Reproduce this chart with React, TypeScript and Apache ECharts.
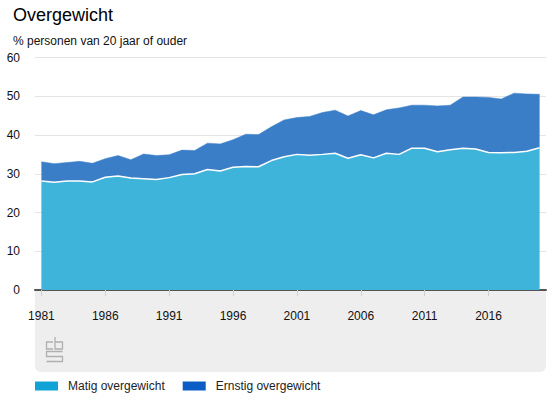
import React, { useEffect, useRef } from "react";
import * as echarts from "echarts";

const years = [
  "1981", "1982", "1983", "1984", "1985", "1986", "1987", "1988", "1989", "1990",
  "1991", "1992", "1993", "1994", "1995", "1996", "1997", "1998", "1999", "2000",
  "2001", "2002", "2003", "2004", "2005", "2006", "2007", "2008", "2009", "2010",
  "2011", "2012", "2013", "2014", "2015", "2016", "2017", "2018", "2019", "2020",
];

const matig = [
  28.1, 27.8, 28.1, 28.1, 27.9, 29.1, 29.4, 28.9, 28.7, 28.5,
  29.0, 29.8, 30.0, 31.1, 30.7, 31.7, 31.9, 31.8, 33.4, 34.4,
  35.0, 34.8, 35.0, 35.3, 34.0, 34.9, 34.1, 35.3, 35.0, 36.6,
  36.6, 35.7, 36.2, 36.6, 36.4, 35.5, 35.4, 35.5, 35.8, 36.7,
];

const ernstig = [
  5.0, 4.8, 4.8, 5.1, 4.8, 4.8, 5.3, 4.7, 6.4, 6.2,
  5.9, 6.3, 6.0, 6.8, 7.0, 7.1, 8.3, 8.3, 8.7, 9.5,
  9.5, 10.0, 10.8, 11.1, 10.9, 11.4, 11.1, 11.2, 12.0, 11.1,
  11.1, 11.8, 11.5, 13.2, 13.4, 14.2, 13.9, 15.3, 14.8, 13.8,
];

const seriesNames = ["Matig overgewicht", "Ernstig overgewicht"];
const titleText = "Overgewicht";
const subtitleText = "% personen van 20 jaar of ouder";

const FONT = "'Liberation Sans', Arial, Helvetica, sans-serif";

export default function App() {
  const ref = useRef<HTMLDivElement>(null);

  useEffect(() => {
    if (!ref.current) return;
    const chart = echarts.init(ref.current, null, { renderer: "svg" });
    const logoStroke = { stroke: "#b0b0b0", lineWidth: 1.3, fill: "none" };
    chart.setOption({
      animation: false,
      backgroundColor: "#ffffff",
      textStyle: { fontFamily: FONT },
      title: [
        {
          text: titleText,
          left: 8,
          top: 1,
          textStyle: { fontSize: 18, fontWeight: "normal", color: "#000", fontFamily: FONT },
        },
        {
          text: subtitleText,
          left: 8,
          top: 30,
          textStyle: { fontSize: 12, fontWeight: "normal", color: "#111", fontFamily: FONT },
        },
      ],
      graphic: [
        {
          type: "rect",
          z: -10,
          silent: true,
          shape: { x: 35, y: 290, width: 511, height: 82, r: [0, 0, 6, 6] },
          style: { fill: "#eeeeee" },
        },
        { type: "polyline", z: 10, shape: { points: [[53, 342], [46.5, 342], [46.5, 349], [53, 349]] }, style: logoStroke },
        { type: "polyline", z: 10, shape: { points: [[55, 337], [55, 349], [62.5, 349], [62.5, 342], [55, 342]] }, style: logoStroke },
        { type: "polyline", z: 10, shape: { points: [[62.5, 351.5], [46.5, 351.5], [46.5, 356.5], [62.5, 356.5], [62.5, 361.5], [46.5, 361.5]] }, style: logoStroke },
      ],
      legend: {
        data: seriesNames,
        left: 30,
        top: 375,
        icon: "rect",
        itemWidth: 23,
        itemHeight: 9,
        itemGap: 18,
        textStyle: { fontSize: 12, color: "#222", fontFamily: FONT, padding: [0, 0, 0, 5] },
        itemStyle: { borderWidth: 0 },
      },
      grid: { left: 35, right: 9, top: 57.5, bottom: 126, containLabel: false },
      xAxis: {
        type: "category",
        data: years,
        boundaryGap: true,
        axisLine: { show: true, lineStyle: { color: "#555", width: 2 } },
        axisTick: { show: true, alignWithLabel: true, interval: 4, length: 6, lineStyle: { color: "#cfcfcf", width: 1 } },
        axisLabel: { interval: 4, margin: 20, fontSize: 12, color: "#111", fontFamily: FONT },
        splitLine: { show: false },
      },
      yAxis: {
        type: "value",
        min: 0,
        max: 60,
        interval: 10,
        axisLine: { show: false },
        axisTick: { show: false },
        axisLabel: { margin: 15, fontSize: 12, color: "#111", fontFamily: FONT },
        splitLine: { show: true, lineStyle: { color: "#e4e4e4", width: 1 } },
      },
      series: [
        {
          name: seriesNames[0],
          type: "line",
          stack: "total",
          data: matig,
          symbol: "none",
          z: 3,
          itemStyle: { color: "#12a3d6" },
          lineStyle: { color: "#ffffff", width: 1.5 },
          areaStyle: { color: "#3fb4db", opacity: 1 },
        },
        {
          name: seriesNames[1],
          type: "line",
          stack: "total",
          data: ernstig,
          symbol: "none",
          z: 2,
          itemStyle: { color: "#0b5cc4" },
          lineStyle: { color: "#3b7ec8", width: 0.5 },
          areaStyle: { color: "#3b7ec8", opacity: 1 },
        },
      ],
    });
    return () => chart.dispose();
  }, []);

  return (
    <div
      ref={ref}
      style={{ position: "fixed", left: 0, top: 0, width: 555, height: 416 }}
    />
  );
}
